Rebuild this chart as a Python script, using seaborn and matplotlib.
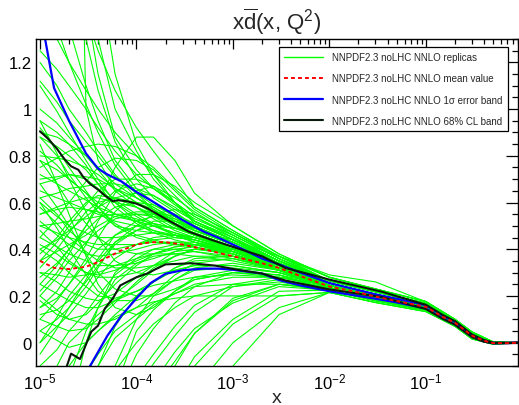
import pandas as pd
import matplotlib
matplotlib.use("Agg")
import matplotlib.pyplot as plt
import seaborn as sns
from matplotlib.lines import Line2D
from matplotlib.ticker import LogLocator, MultipleLocator, FuncFormatter

# --- data ---
rep_x = [1e-5, 1.5e-5, 2e-5, 3e-5, 4e-5, 6e-5, 1e-4, 1.5e-4, 2.5e-4, 4e-4, 1e-3, 3e-3,
         1e-2, 3e-2, 0.1, 0.2, 0.3, 0.5, 0.9]

# high-x tails (1e-2 ... 0.9), the replicas all pinch together there
T_HI2 = [0.28, 0.23, 0.176, 0.100, 0.046, 0.003, 0.0]
T_HI = [0.265, 0.218, 0.168, 0.095, 0.040, 0.001, 0.0]
T_MIDP = [0.255, 0.207, 0.160, 0.090, 0.034, -0.001, 0.0]
T_MID = [0.245, 0.198, 0.154, 0.085, 0.030, -0.002, 0.0]
T_MIDM = [0.235, 0.189, 0.147, 0.080, 0.025, -0.003, 0.0]
T_LO = [0.225, 0.180, 0.140, 0.075, 0.020, -0.005, 0.0]
T_LO2 = [0.215, 0.172, 0.133, 0.070, 0.016, -0.007, 0.0]
T_FLAT = [0.215, 0.195, 0.152, 0.084, 0.029, -0.002, 0.0]
T_OUT = [0.29, 0.26, 0.175, 0.092, 0.036, -0.002, 0.0]

replicas = [
    # steep ones entering from the top
    [4.0, 2.8, 2.1, 1.45, 1.15, 0.88, 0.74, 0.66, 0.59, 0.53, 0.46, 0.36] + T_HI,
    [2.6, 2.05, 1.7, 1.3, 1.08, 0.86, 0.70, 0.62, 0.56, 0.50, 0.43, 0.34] + T_MIDP,
    [1.8, 1.55, 1.35, 1.1, 0.95, 0.78, 0.66, 0.60, 0.54, 0.48, 0.42, 0.33] + T_MID,
    [9.0, 6.0, 4.0, 1.0, 0.78, 0.66, 0.60, 0.55, 0.50, 0.46, 0.41, 0.33] + T_MIDP,
    [1.25, 1.17, 1.10, 1.0, 0.92, 0.82, 0.72, 0.66, 0.60, 0.51, 0.44, 0.35] + T_HI,
    [1.12, 1.03, 0.95, 0.86, 0.80, 0.71, 0.64, 0.59, 0.54, 0.48, 0.42, 0.34] + T_MIDP,
    [3.0, 2.75, 2.5, 2.0, 1.6, 1.15, 0.85, 0.72, 0.60, 0.52, 0.44, 0.34] + T_MID,
    [1.4, 1.3, 1.2, 1.08, 1.0, 0.90, 0.80, 0.72, 0.63, 0.55, 0.47, 0.37] + T_HI2,
    [2.0, 1.78, 1.6, 1.4, 1.25, 1.08, 0.92, 0.82, 0.70, 0.58, 0.48, 0.37] + T_HI,
    [5.0, 3.5, 2.6, 1.7, 1.3, 1.0, 0.82, 0.70, 0.60, 0.52, 0.45, 0.35] + T_HI,
    [1.6, 1.35, 1.2, 1.02, 0.90, 0.76, 0.64, 0.57, 0.51, 0.46, 0.41, 0.33] + T_MID,
    # ones coming up from below
    [-3.0, -2.1, -1.6, -0.95, -0.6, -0.2, 0.05, 0.14, 0.22, 0.27, 0.30, 0.29] + T_MID,
    [-2.0, -1.5, -1.2, -0.8, -0.55, -0.25, -0.05, 0.06, 0.17, 0.24, 0.30, 0.28] + T_MIDM,
    [-1.5, -1.2, -1.0, -0.75, -0.6, -0.38, -0.2, -0.09, 0.03, 0.13, 0.24, 0.27] + T_MIDM,
    [-1.2, -1.03, -0.9, -0.72, -0.6, -0.44, -0.3, -0.2, -0.08, 0.04, 0.18, 0.25] + T_LO,
    [-1.0, -0.9, -0.8, -0.68, -0.6, -0.5, -0.4, -0.31, -0.2, -0.1, 0.08, 0.20] + T_LO2,
    [-0.8, -0.7, -0.6, -0.48, -0.4, -0.26, -0.15, -0.05, 0.07, 0.16, 0.25, 0.28] + T_MID,
    [-0.4, -0.32, -0.25, -0.13, -0.05, 0.05, 0.12, 0.17, 0.21, 0.25, 0.28, 0.28] + T_MID,
    [-0.6, -0.47, -0.35, -0.2, -0.1, 0.02, 0.10, 0.16, 0.21, 0.24, 0.25, 0.25] + T_MIDM,
    [-0.3, -0.2, -0.1, 0.0, 0.05, 0.11, 0.15, 0.175, 0.19, 0.20, 0.20, 0.20] + T_FLAT,
    [-3.0, -2.4, -2.0, -1.6, -1.4, -1.05, -0.8, -0.6, -0.4, -0.2, 0.0, 0.15] + T_LO2,
    [-0.2, -0.1, 0.0, 0.07, 0.12, 0.18, 0.22, 0.245, 0.265, 0.28, 0.29, 0.28] + T_MID,
    [-1.0, -0.72, -0.5, -0.25, -0.1, 0.07, 0.20, 0.26, 0.31, 0.33, 0.33, 0.30] + T_MID,
    [-2.0, -1.7, -1.5, -1.2, -1.0, -0.72, -0.5, -0.35, -0.2, -0.06, 0.10, 0.22] + T_LO,
    [-1.6, -1.3, -1.1, -0.85, -0.7, -0.48, -0.3, -0.17, -0.04, 0.06, 0.17, 0.24] + T_LO,
    [-4.0, -3.4, -3.0, -2.4, -2.0, -1.55, -1.2, -0.92, -0.62, -0.35, -0.1, 0.12] + T_LO2,
    [-0.9, -0.55, -0.3, 0.0, 0.15, 0.30, 0.38, 0.40, 0.40, 0.39, 0.36, 0.31] + T_MID,
    [-0.5, -0.3, -0.15, 0.05, 0.15, 0.27, 0.34, 0.37, 0.38, 0.37, 0.35, 0.31] + T_MID,
    [-2.5, -1.8, -1.3, -0.7, -0.4, -0.1, 0.10, 0.20, 0.27, 0.31, 0.32, 0.30] + T_MIDM,
    [-1.8, -1.6, -1.4, -1.15, -0.95, -0.7, -0.45, -0.27, -0.1, 0.04, 0.19, 0.25] + T_LO,
    [-0.7, -0.6, -0.5, -0.35, -0.25, -0.12, 0.0, 0.08, 0.15, 0.20, 0.24, 0.26] + T_LO,
    # main bundle
    [0.90, 0.88, 0.85, 0.80, 0.75, 0.68, 0.62, 0.58, 0.53, 0.49, 0.43, 0.35] + T_HI,
    [0.80, 0.79, 0.78, 0.75, 0.72, 0.66, 0.60, 0.56, 0.50, 0.46, 0.40, 0.33] + T_MIDP,
    [0.70, 0.71, 0.72, 0.71, 0.70, 0.66, 0.62, 0.58, 0.52, 0.48, 0.42, 0.34] + T_MIDP,
    [0.65, 0.62, 0.60, 0.57, 0.55, 0.52, 0.50, 0.48, 0.46, 0.44, 0.39, 0.32] + T_MID,
    [0.55, 0.58, 0.60, 0.62, 0.62, 0.60, 0.58, 0.55, 0.51, 0.47, 0.41, 0.33] + T_MIDP,
    [0.50, 0.47, 0.45, 0.43, 0.42, 0.42, 0.42, 0.43, 0.43, 0.42, 0.38, 0.31] + T_MIDM,
    [0.20, 0.28, 0.35, 0.43, 0.48, 0.53, 0.55, 0.55, 0.53, 0.49, 0.42, 0.33] + T_MID,
    [0.10, 0.18, 0.25, 0.34, 0.40, 0.46, 0.50, 0.51, 0.49, 0.47, 0.41, 0.33] + T_MID,
    [0.00, 0.07, 0.12, 0.21, 0.28, 0.36, 0.42, 0.45, 0.46, 0.45, 0.40, 0.32] + T_MIDM,
    [-0.10, -0.03, 0.05, 0.13, 0.20, 0.29, 0.36, 0.40, 0.42, 0.42, 0.38, 0.31] + T_MIDM,
    [0.30, 0.29, 0.28, 0.29, 0.30, 0.33, 0.36, 0.38, 0.40, 0.41, 0.37, 0.31] + T_MIDM,
    [0.95, 0.81, 0.70, 0.56, 0.45, 0.35, 0.30, 0.29, 0.31, 0.33, 0.33, 0.30] + T_MIDM,
    [0.85, 0.68, 0.55, 0.37, 0.25, 0.15, 0.12, 0.15, 0.22, 0.28, 0.31, 0.29] + T_LO,
    [0.60, 0.49, 0.40, 0.29, 0.22, 0.18, 0.18, 0.21, 0.27, 0.32, 0.34, 0.31] + T_MIDM,
    [0.40, 0.35, 0.30, 0.24, 0.20, 0.19, 0.22, 0.26, 0.32, 0.36, 0.37, 0.32] + T_MID,
    [0.25, 0.21, 0.18, 0.15, 0.15, 0.18, 0.25, 0.31, 0.37, 0.40, 0.39, 0.32] + T_MID,
    [0.15, 0.19, 0.25, 0.36, 0.45, 0.56, 0.65, 0.67, 0.62, 0.56, 0.46, 0.36] + T_HI,
    [0.35, 0.43, 0.50, 0.59, 0.65, 0.70, 0.70, 0.67, 0.60, 0.54, 0.45, 0.35] + T_MIDP,
    [0.45, 0.53, 0.60, 0.69, 0.75, 0.79, 0.78, 0.74, 0.65, 0.57, 0.47, 0.36] + T_HI,
    [0.75, 0.79, 0.82, 0.84, 0.85, 0.84, 0.80, 0.75, 0.66, 0.58, 0.48, 0.37] + T_HI2,
    [0.00, 0.11, 0.20, 0.29, 0.35, 0.43, 0.48, 0.52, 0.52, 0.50, 0.43, 0.34] + T_MIDP,
    [0.60, 0.54, 0.50, 0.47, 0.45, 0.45, 0.46, 0.47, 0.46, 0.45, 0.40, 0.32] + T_MID,
    [0.55, 0.57, 0.58, 0.57, 0.56, 0.54, 0.52, 0.50, 0.47, 0.44, 0.39, 0.31] + T_MIDM,
    [0.30, 0.26, 0.22, 0.19, 0.18, 0.21, 0.28, 0.33, 0.39, 0.42, 0.40, 0.33] + T_MID,
    [0.72, 0.68, 0.65, 0.61, 0.58, 0.55, 0.53, 0.51, 0.49, 0.47, 0.41, 0.32] + T_MID,
    [1.00, 0.94, 0.88, 0.80, 0.74, 0.65, 0.58, 0.53, 0.48, 0.45, 0.40, 0.33] + T_MID,
    [0.20, 0.14, 0.10, 0.08, 0.08, 0.10, 0.15, 0.21, 0.29, 0.34, 0.36, 0.31] + T_MIDM,
    [0.45, 0.41, 0.38, 0.35, 0.33, 0.33, 0.34, 0.36, 0.39, 0.40, 0.38, 0.32] + T_MID,
    [0.05, 0.10, 0.15, 0.24, 0.32, 0.43, 0.50, 0.55, 0.57, 0.55, 0.47, 0.37] + T_HI,
    [0.62, 0.64, 0.66, 0.67, 0.68, 0.68, 0.66, 0.63, 0.57, 0.52, 0.44, 0.35] + T_MIDP,
    [0.50, 0.51, 0.52, 0.53, 0.54, 0.55, 0.55, 0.54, 0.51, 0.48, 0.44, 0.37] + T_OUT,
    [0.92, 0.83, 0.75, 0.65, 0.58, 0.50, 0.45, 0.43, 0.42, 0.41, 0.38, 0.31] + T_MIDM,
    [0.35, 0.39, 0.42, 0.46, 0.50, 0.54, 0.56, 0.56, 0.54, 0.51, 0.44, 0.35] + T_MIDP,
    [0.10, 0.07, 0.05, 0.06, 0.10, 0.17, 0.26, 0.32, 0.37, 0.40, 0.39, 0.33] + T_MID,
    [0.78, 0.68, 0.60, 0.51, 0.45, 0.40, 0.38, 0.38, 0.38, 0.39, 0.37, 0.31] + T_MIDM,
    [1.10, 0.99, 0.90, 0.78, 0.70, 0.60, 0.52, 0.48, 0.45, 0.44, 0.40, 0.32] + T_MID,
    [0.15, 0.22, 0.30, 0.42, 0.52, 0.64, 0.72, 0.72, 0.67, 0.60, 0.50, 0.38] + T_HI2,
    [0.68, 0.58, 0.50, 0.38, 0.30, 0.23, 0.20, 0.20, 0.23, 0.27, 0.30, 0.29] + T_LO,
    [0.40, 0.44, 0.48, 0.54, 0.58, 0.62, 0.64, 0.63, 0.58, 0.52, 0.45, 0.35] + T_HI,
    [0.88, 0.84, 0.80, 0.74, 0.68, 0.61, 0.55, 0.51, 0.46, 0.43, 0.38, 0.31] + T_MIDM,
    [0.25, 0.33, 0.40, 0.50, 0.60, 0.75, 0.88, 0.88, 0.78, 0.64, 0.50, 0.38] + T_HI2,
    [0.58, 0.51, 0.45, 0.39, 0.35, 0.32, 0.32, 0.33, 0.35, 0.37, 0.37, 0.32] + T_MID,
    [0.05, 0.01, -0.02, 0.0, 0.05, 0.12, 0.20, 0.26, 0.32, 0.35, 0.36, 0.32] + T_MID,
    [1.20, 1.10, 1.00, 0.90, 0.82, 0.72, 0.62, 0.57, 0.51, 0.46, 0.41, 0.33] + T_MID,
    [0.82, 0.76, 0.70, 0.64, 0.60, 0.55, 0.52, 0.50, 0.47, 0.45, 0.41, 0.34] + T_MIDP,
    [0.48, 0.41, 0.35, 0.30, 0.28, 0.28, 0.30, 0.33, 0.37, 0.40, 0.40, 0.34] + T_MIDP,
    [0.38, 0.45, 0.52, 0.60, 0.63, 0.62, 0.58, 0.54, 0.49, 0.46, 0.41, 0.33] + T_MID,
    [0.68, 0.70, 0.72, 0.70, 0.66, 0.60, 0.54, 0.50, 0.46, 0.43, 0.39, 0.32] + T_MIDM,
    [0.12, 0.14, 0.18, 0.26, 0.33, 0.42, 0.48, 0.50, 0.49, 0.46, 0.40, 0.32] + T_MID,
    [0.52, 0.46, 0.42, 0.38, 0.37, 0.38, 0.40, 0.42, 0.43, 0.43, 0.40, 0.33] + T_MID,
    [0.28, 0.34, 0.40, 0.48, 0.53, 0.58, 0.60, 0.59, 0.55, 0.51, 0.44, 0.35] + T_MIDP,
    [0.95, 0.90, 0.85, 0.76, 0.68, 0.58, 0.51, 0.47, 0.44, 0.42, 0.39, 0.32] + T_MID,
    [0.18, 0.12, 0.10, 0.12, 0.17, 0.25, 0.33, 0.38, 0.41, 0.42, 0.39, 0.32] + T_MID,
    [0.62, 0.55, 0.48, 0.42, 0.40, 0.40, 0.42, 0.44, 0.45, 0.44, 0.40, 0.33] + T_MID,
    [0.32, 0.40, 0.47, 0.56, 0.60, 0.62, 0.60, 0.57, 0.52, 0.48, 0.42, 0.34] + T_MIDP,
    [0.78, 0.74, 0.70, 0.64, 0.58, 0.51, 0.46, 0.44, 0.42, 0.42, 0.39, 0.32] + T_MID,
    [-0.05, 0.06, 0.15, 0.27, 0.36, 0.46, 0.52, 0.54, 0.52, 0.49, 0.43, 0.34] + T_MIDP,
    [0.42, 0.38, 0.34, 0.30, 0.29, 0.31, 0.35, 0.38, 0.41, 0.42, 0.40, 0.33] + T_MID,
    [0.88, 0.80, 0.72, 0.62, 0.56, 0.50, 0.48, 0.47, 0.46, 0.45, 0.41, 0.34] + T_MIDP,
    [0.22, 0.30, 0.38, 0.50, 0.58, 0.65, 0.68, 0.66, 0.60, 0.54, 0.46, 0.36] + T_HI,
]

band_x = [1e-5, 1.4e-5, 2e-5, 3e-5, 4e-5, 5e-5, 7e-5, 1e-4, 1.4e-4, 2e-4, 3e-4, 5e-4, 7e-4,
          1e-3, 2e-3, 3e-3, 5e-3, 1e-2, 2e-2, 3e-2, 5e-2, 0.1, 0.15, 0.2, 0.3, 0.4, 0.5, 0.7, 0.9]
mean_val = [0.35, 0.32, 0.315, 0.325, 0.345, 0.365, 0.395, 0.42, 0.43, 0.43, 0.42, 0.40, 0.385,
            0.37, 0.34, 0.32, 0.285, 0.24, 0.215, 0.197, 0.178, 0.153, 0.11, 0.085, 0.03, 0.008,
            -0.002, -0.002, 0.0]
sigma_hi = [1.42, 1.09, 0.95, 0.81, 0.745, 0.72, 0.69, 0.645, 0.61, 0.57, 0.525, 0.475, 0.45,
            0.42, 0.36, 0.335, 0.30, 0.255, 0.225, 0.207, 0.188, 0.16, 0.115, 0.09, 0.033, 0.01,
            -0.001, -0.001, 0.0]
sigma_lo = [-1.2, -0.8, -0.45, -0.13, -0.04, 0.03, 0.116, 0.19, 0.255, 0.295, 0.31, 0.317, 0.317,
            0.312, 0.296, 0.268, 0.245, 0.22, 0.20, 0.188, 0.172, 0.146, 0.103, 0.078, 0.025, 0.005,
            -0.003, -0.002, 0.0]

cl_hi_x = [1e-5, 1.2e-5, 1.5e-5, 1.8e-5, 2.1e-5, 2.5e-5, 2.8e-5, 3.3e-5, 4e-5, 4.7e-5, 5.7e-5,
           6.4e-5, 8e-5, 1e-4, 1.3e-4, 2e-4, 3.5e-4, 6e-4, 1e-3, 2e-3, 3.5e-3, 1e-2, 3.5e-2,
           0.1, 0.15, 0.2, 0.3, 0.4, 0.5, 0.7, 0.9]
cl_hi = [0.905, 0.875, 0.83, 0.785, 0.755, 0.74, 0.71, 0.68, 0.655, 0.63, 0.605, 0.61, 0.605,
         0.595, 0.575, 0.53, 0.475, 0.44, 0.41, 0.37, 0.32, 0.27, 0.218, 0.162, 0.118, 0.092,
         0.035, 0.011, 0.0, 0.0, 0.0]
cl_lo_x = [1e-5, 1.5e-5, 1.9e-5, 2.1e-5, 2.6e-5, 3.4e-5, 4e-5, 4.7e-5, 5.7e-5, 6.8e-5, 8e-5,
           1e-4, 1.3e-4, 1.5e-4, 2e-4, 3.7e-4, 6.5e-4, 1.2e-3, 2e-3, 3.5e-3, 1e-2, 3.5e-2,
           0.1, 0.15, 0.2, 0.3, 0.4, 0.5, 0.7, 0.9]
cl_lo = [-0.5, -0.25, -0.1, -0.047, -0.07, 0.047, 0.073, 0.146, 0.19, 0.245, 0.26, 0.28, 0.296,
         0.31, 0.335, 0.34, 0.33, 0.31, 0.296, 0.266, 0.228, 0.195, 0.144, 0.102, 0.077, 0.024,
         0.004, -0.003, -0.002, 0.0]

labels = ["NNPDF2.3 noLHC NNLO replicas",
          "NNPDF2.3 noLHC NNLO mean value",
          "NNPDF2.3 noLHC NNLO 1\u03c3 error band",
          "NNPDF2.3 noLHC NNLO 68% CL band"]

GREEN, RED, BLUE, BLACK = "#00ff00", "#ff0000", "#0000ff", "#0a1a0a"

# long table of replicas for seaborn
rows = []
for i, vals in enumerate(replicas):
    for xv, yv in zip(rep_x, vals):
        rows.append({"replica": i, "x": xv, "xdbar": yv})
rep_df = pd.DataFrame(rows)

# --- style ---
sns.set_style("white")
plt.rcParams["font.family"] = ["Liberation Sans", "DejaVu Sans"]
plt.rcParams["mathtext.fontset"] = "custom"
plt.rcParams["mathtext.rm"] = "Liberation Sans"
plt.rcParams["mathtext.it"] = "Liberation Sans:italic"
plt.rcParams["mathtext.bf"] = "Liberation Sans:bold"

fig = plt.figure(figsize=(5.19, 4.06), dpi=100)
ax = fig.add_axes([0.0694, 0.096, 0.9287, 0.8055])

sns.lineplot(data=rep_df, x="x", y="xdbar", units="replica", estimator=None, sort=False,
             color=GREEN, lw=0.8, legend=False, ax=ax)
sns.lineplot(x=band_x, y=sigma_hi, estimator=None, sort=False, color=BLUE, lw=1.6, ax=ax)
sns.lineplot(x=band_x, y=sigma_lo, estimator=None, sort=False, color=BLUE, lw=1.6, ax=ax)
sns.lineplot(x=cl_hi_x, y=cl_hi, estimator=None, sort=False, color=BLACK, lw=1.5, ax=ax)
sns.lineplot(x=cl_lo_x, y=cl_lo, estimator=None, sort=False, color=BLACK, lw=1.5, ax=ax)
sns.lineplot(x=band_x, y=mean_val, estimator=None, sort=False, color=RED, lw=1.4,
             linestyle=(0, (2, 1.6)), ax=ax)

ax.set_xscale("log")
ax.set_xlim(9.1e-6, 0.9)
ax.set_ylim(-0.1, 1.3)

ax.xaxis.set_major_locator(LogLocator(base=10))
ax.xaxis.set_minor_locator(LogLocator(base=10, subs=range(2, 10)))
ax.yaxis.set_major_locator(MultipleLocator(0.2))
ax.yaxis.set_minor_locator(MultipleLocator(0.05))
ax.yaxis.set_major_formatter(FuncFormatter(lambda v, p: f"{v:g}"))

ax.tick_params(which="both", direction="in", top=True, right=True, colors="black",
               labelsize=12, width=0.9)
ax.tick_params(axis="x", which="major", length=7, pad=4)
ax.tick_params(axis="x", which="minor", length=3.5)
ax.tick_params(axis="y", which="major", length=8.5, pad=3)
ax.tick_params(axis="y", which="minor", length=4)

for sp in ax.spines.values():
    sp.set_color("black")
    sp.set_linewidth(1.0)

ax.set_xlabel("x", fontsize=14, labelpad=-2)
ax.set_ylabel("")
ax.set_title(r"x$\overline{\mathrm{d}}$(x, Q$^{2}$)", fontsize=16, pad=7)

handles = [Line2D([], [], color=GREEN, lw=1.0),
           Line2D([], [], color=RED, lw=1.4, linestyle=(0, (2, 1.6))),
           Line2D([], [], color=BLUE, lw=1.6),
           Line2D([], [], color=BLACK, lw=1.5)]
leg = ax.legend(handles, labels, loc="upper right", bbox_to_anchor=(0.979, 0.976),
                borderaxespad=0, fontsize=7, frameon=True, fancybox=False,
                framealpha=1, edgecolor="black", handlelength=4.0, handletextpad=0.95,
                labelspacing=1.15, borderpad=0.55)
leg.get_frame().set_linewidth(0.9)

fig.savefig("out.png", dpi=100)
